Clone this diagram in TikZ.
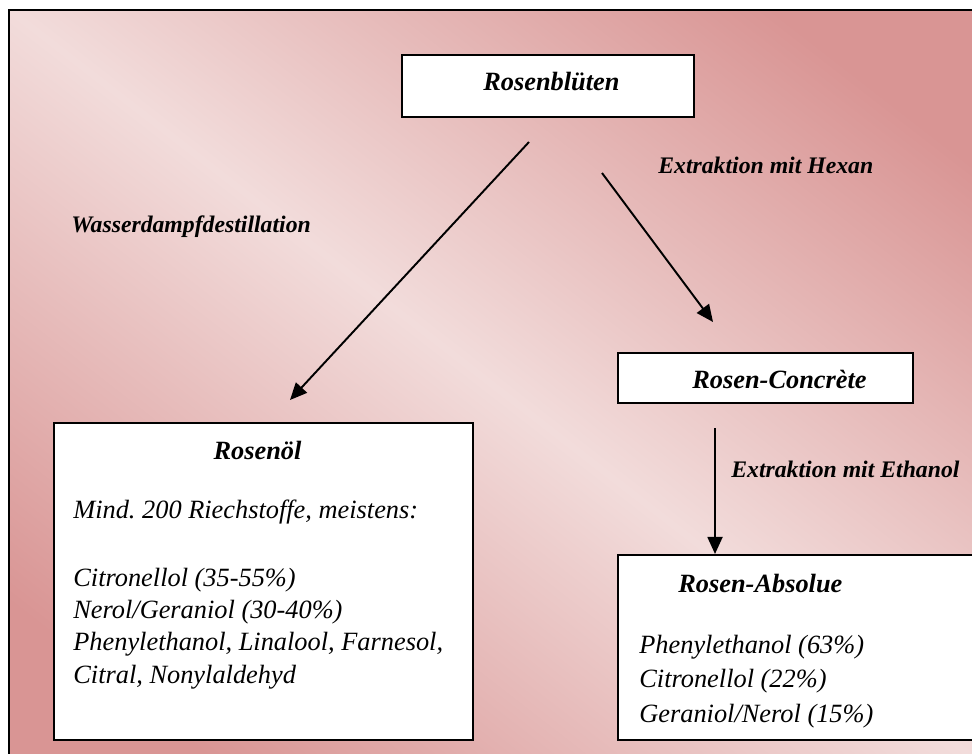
\documentclass[tikz,border=0pt]{standalone}
\usepackage{fontspec}
\setmainfont{Liberation Serif}
\usepackage{tikz}
\usetikzlibrary{arrows.meta}
\definecolor{roseDark}{HTML}{D99594}
\definecolor{roseLight}{HTML}{F2DCDB}
\pgfdeclareverticalshading{rosenVerlauf}{100bp}{color(0bp)=(roseDark); color(32bp)=(roseDark); color(50bp)=(roseLight); color(68bp)=(roseDark); color(100bp)=(roseDark)}
\tikzset{
	box/.style={draw=black, line width=1.2pt, fill=white, inner sep=0pt},
	pfeil/.style={line width=1.1pt, -{Triangle[length=0.34cm, width=0.3cm]}},
	titel/.style={font=\fontsize{15}{18}\selectfont\bfseries\itshape, inner sep=0pt, anchor=base west},
	weg/.style={font=\fontsize{13.5}{16}\selectfont\bfseries\itshape, inner sep=0pt, anchor=base west},
	inhalt/.style={inner sep=0pt, anchor=base west, align=left},
}
\begin{document}
\begin{tikzpicture}
				% Background, boxes, texts and arrows:
				\clip (0, 0) rectangle (19.44, 15.06);
				\fill[white] (0, 0) rectangle (19.44, 15.06);
				\begin{scope}
					\clip (0.18, -0.3) rectangle (19.74, 14.86);
					\begin{scope}[transform canvas={shift={(9.96, 7.28)}, rotate=-37.8}]
						\shade[shading=rosenVerlauf] (-14, -13) rectangle (14, 13);
					\end{scope}
				\end{scope}
				\draw[line width=1.4pt] (0.18, -0.3) rectangle (19.74, 14.86);
				\node[box, minimum width=5.84cm, minimum height=1.24cm](bluete) at (10.96, 13.34){};
				\node[box, minimum width=5.9cm, minimum height=1cm](concrete) at (15.31, 7.5){};
				\node[box, minimum width=8.38cm, minimum height=6.34cm](oel) at (5.27, 3.43){};
				\node[box, minimum width=7.44cm, minimum height=3.7cm](absolue) at (16.08, 2.11){};
				\node[titel](blueteTxt) at (9.66, 13.24){Rosenblüten};
				\node[titel](concreteTxt) at (13.84, 7.3){Rosen-Concrète};
				\node[titel, anchor=base](oelTxt) at (5.15, 5.88){Rosenöl};
				\node[titel](absolueTxt) at (13.56, 3.22){Rosen-Absolue};
				\node[weg](dampfTxt) at (1.42, 10.4){Wasserdampfdestillation};
				\node[weg](hexanTxt) at (13.16, 11.58){Extraktion mit Hexan};
				\node[weg](ethanolTxt) at (14.62, 5.52){Extraktion mit Ethanol};
				\node[inhalt, font=\fontsize{15}{18.4}\selectfont\itshape](oelListe) at (1.46, 1.4){Mind.\ 200 Riechstoffe, meistens:\\[0.694cm]
					Citronellol (35-55\%)\\
					Nerol/Geraniol (30-40\%)\\
					Phenylethanol, Linalool, Farnesol,\\
					Citral, Nonylaldehyd};
				\node[inhalt, font=\fontsize{15}{19.6}\selectfont\itshape](absolueListe) at (12.78, 0.62){Phenylethanol (63\%)\\
					Citronellol (22\%)\\
					Geraniol/Nerol (15\%)};
				\coordinate (dampfA) at (10.58, 12.22);
				\coordinate (dampfB) at (5.8, 7.06);
				\coordinate (hexanA) at (12.04, 11.6);
				\coordinate (hexanB) at (14.26, 8.62);
				\coordinate (ethanolA) at (14.3, 6.5);
				\draw[pfeil] (dampfA) -- (dampfB);
				\draw[pfeil] (hexanA) -- (hexanB);
				\draw[pfeil] (ethanolA) -- (absolue.north -| ethanolA);
			\end{tikzpicture}
\end{document}
